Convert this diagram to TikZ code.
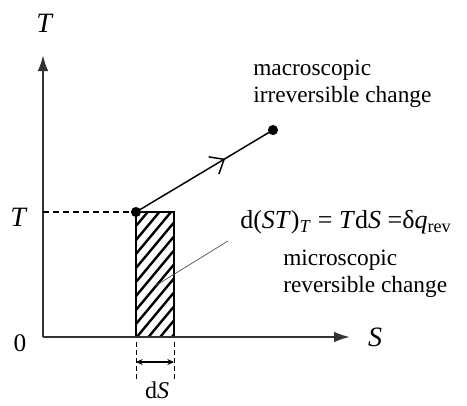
\documentclass[tikz,border=0pt]{standalone}
\usepackage{fontspec}
\setmainfont{Liberation Serif}
\usetikzlibrary{arrows.meta,positioning,calc,decorations.markings}
\tikzset{
  axisline/.style={line width=1.6pt, black!80, -{Latex[length=12pt,width=8pt]}},
  axislabel/.style={font=\fontsize{21}{24}\selectfont, inner sep=0pt},
  note/.style={font=\fontsize{17.5}{20}\selectfont, inner sep=0pt, align=left, anchor=west},
  guide/.style={line width=0.9pt, dash pattern=on 4.5pt off 3pt},
  hatchline/.style={line width=1.8pt},
  process/.style={line width=1.1pt, postaction={decorate}, decoration={markings,
    mark=at position 0.65 with {\arrow{Straight Barb[length=9pt,width=15pt]}}}},
}
\newcommand{\StateDot}[1]{\fill (#1) circle (3.8pt);}
\begin{document}
\begin{tikzpicture}[x=0.75pt,y=-0.75pt]
  \useasboundingbox (0,0) rectangle (467,405);
  \coordinate (O) at (43,337);
  \coordinate (A) at (136,212);
  \coordinate (B) at (273,130);
  \coordinate (C) at (174,337);
  \begin{scope}
    \clip (A) rectangle (C);
    \foreach \k in {0,...,13}
      \draw[hatchline] ($(A)+(0,14*\k)$) -- ++(60,-72);
  \end{scope}
  \draw[line width=0.9pt] (A) rectangle (C);
  \draw[axisline] (O) -- (43,55);
  \draw[axisline] (O) -- (350,337);
  \path (45,23) node (ytop) [axislabel] {\textit{T}};
  \path (19,217) node (ylev) [axislabel] {\textit{T}};
  \path (20,343) node (zero) [axislabel, font=\fontsize{19}{22}\selectfont] {0};
  \path (375,337) node (xlab) [axislabel] {\textit{S}};
  \draw[guide] (O|-A) -- (A);
  \draw[process] (A) -- (B);
  \StateDot{A}
  \StateDot{B}
  \path (253,84) node (macro) [note] {macroscopic\\irreversible change};
  \path (240,222) node (eq) [note, font=\fontsize{19.5}{22}\selectfont]
    {d(\textit{ST})\textsubscript{\textit{T}} = \textit{T}d\textit{S} =δ\textit{q}\textsubscript{rev}};
  \path (283,274) node (micro) [note] {microscopic\\reversible change};
  \coordinate (P1) at (155,286);
  \coordinate (P2) at (228,241);
  \draw[line width=0.5pt, black!70] (P1) -- (P2);
  \draw[guide, line width=0.6pt, dash pattern=on 3.5pt off 2.5pt] ($(A|-O)+(0,5)$) -- ++(0,38);
  \draw[guide, line width=0.6pt, dash pattern=on 3.5pt off 2.5pt] ($(C)+(0,5)$) -- ++(0,38);
  \draw[line width=0.9pt, {Stealth[length=5pt,width=4.5pt]}-{Stealth[length=5pt,width=4.5pt]}] ($(A|-O)+(0,25)$) -- ($(C)+(0,25)$);
  \path (157,390) node (dS) [axislabel, font=\fontsize{18}{22}\selectfont] {d\textit{S}};
\end{tikzpicture}
\end{document}
